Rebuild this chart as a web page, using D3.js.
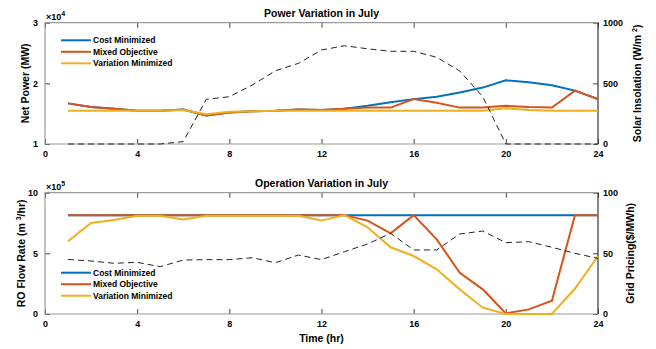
<!DOCTYPE html>
<html>
<head>
<meta charset="utf-8">
<script src="https://cdn.jsdelivr.net/npm/d3@7"></script>
<style>
  body { margin: 0; background: #fff; }
  text { font-family: "Liberation Sans", Arial, sans-serif; font-weight: bold; fill: #000; }
</style>
</head>
<body>
<svg id="chart" width="656" height="349"></svg>
<script>
// hours of the day
const hours = [1, 2, 3, 4, 5, 6, 7, 8, 9, 10, 11, 12, 13, 14, 15, 16, 17, 18, 19, 20, 21, 22, 23, 24];
const xTicks = [0, 4, 8, 12, 16, 20, 24];
const seriesNames = ["Cost Minimized", "Mixed Objective", "Variation Minimized"];

// top panel: net power (MW) and solar insolation (W/m2)
const powerCost = [16700, 16100, 15800, 15500, 15500, 15700, 14700, 15200, 15400, 15500, 15700, 15600,
  15800, 16300, 16900, 17400, 17800, 18500, 19300, 20500, 20200, 19700, 18800, 17400];
const powerMixed = [16700, 16100, 15800, 15500, 15500, 15700, 14700, 15200, 15400, 15500, 15700, 15600,
  15800, 16000, 16000, 17400, 16800, 16000, 16000, 16300, 16100, 16000, 18800, 17400];
const powerVariation = [15500, 15500, 15500, 15500, 15500, 15600, 14900, 15300, 15400, 15500, 15500, 15500,
  15500, 15500, 15500, 15500, 15500, 15500, 15500, 15900, 15600, 15500, 15500, 15500];
const solar = [0, 0, 0, 0, 0, 20, 368, 390, 486, 604, 665, 775, 810, 785, 764, 764, 715, 602, 390, 0, 0, 0, 0, 0];
const powerTicks = [10000, 20000, 30000];
const solarTicks = [0, 500, 1000];

// bottom panel: RO flow rate (m3/hr) and grid pricing ($/MWh)
const flowCost = [815000, 815000, 815000, 815000, 815000, 815000, 815000, 815000, 815000, 815000, 815000, 815000,
  815000, 815000, 815000, 815000, 815000, 815000, 815000, 815000, 815000, 815000, 815000, 815000];
const flowMixed = [815000, 815000, 815000, 815000, 815000, 815000, 815000, 815000, 815000, 815000, 815000, 815000,
  815000, 770000, 665000, 815000, 615000, 340000, 203000, 5000, 38000, 110000, 815000, 815000];
const flowVariation = [600000, 750000, 775000, 810000, 810000, 780000, 810000, 810000, 810000, 810000, 810000, 770000,
  815000, 715000, 550000, 478000, 368000, 203000, 52000, 0, 0, 0, 210000, 478000];
const price = [45, 43.7, 41.8, 42.6, 39, 44.5, 44.8, 44.8, 46.4, 42.3, 48.6, 44.8,
  51.4, 57.7, 66.5, 52.8, 52.8, 66, 68.4, 58.8, 59.6, 55, 50, 45.9];
const flowTicks = [0, 500000, 1000000];
const priceTicks = [0, 50, 100];

const colors = ["#0072BD", "#D95319", "#EDB120"];
const svg = d3.select("#chart");
const left = 45, right = 598;
const x = d3.scaleLinear().domain([0, 24]).range([left, right]);

function drawPanel(p) {
  const yL = d3.scaleLinear().domain(p.leftDomain).range([p.bottom, p.top]);
  const yR = d3.scaleLinear().domain(p.rightDomain).range([p.bottom, p.top]);
  const g = svg.append("g");

  // axes, ticks point inward like matlab
  const ax = g.append("g").attr("transform", "translate(0," + p.bottom + ")")
    .call(d3.axisBottom(x).tickValues(xTicks).tickSize(-5).tickPadding(7).tickFormat(d3.format("d")));
  g.append("g").attr("transform", "translate(0," + p.top + ")")
    .call(d3.axisTop(x).tickValues(xTicks).tickSize(-5).tickFormat(""));
  const ay = g.append("g").attr("transform", "translate(" + left + ",0)")
    .call(d3.axisLeft(yL).tickValues(p.leftTicks).tickSize(-5).tickPadding(7).tickFormat(d => d / p.leftExp));
  const ar = g.append("g").attr("transform", "translate(" + right + ",0)")
    .call(d3.axisRight(yR).tickValues(p.rightTicks).tickSize(-5).tickPadding(5).tickFormat(d3.format("d")));
  g.selectAll(".domain").remove();
  g.selectAll(".tick line").attr("stroke", "#444");
  g.selectAll(".tick text").style("font-size", "9px").style("font-family", null).attr("fill", "#000");

  // box
  g.append("path").attr("d", `M${right},${p.top}H${left}V${p.bottom}H${right}`)
    .attr("fill", "none").attr("stroke", "#9a9a9a").attr("stroke-width", 1.2);
  g.append("line").attr("x1", right).attr("x2", right).attr("y1", p.top).attr("y2", p.bottom)
    .attr("stroke", "#333").attr("stroke-width", 1.2);

  const line = y => d3.line().x((d, i) => x(hours[i])).y(d => y(d));
  p.series.forEach((s, i) => {
    g.append("path").datum(s).attr("d", line(yL))
      .attr("fill", "none").attr("stroke", colors[i]).attr("stroke-width", 2);
  });
  g.append("path").datum(p.dashed).attr("d", line(yR))
    .attr("fill", "none").attr("stroke", "#222").attr("stroke-width", 1)
    .attr("stroke-dasharray", "6,4");

  // title and exponent
  g.append("text").attr("x", (left + right) / 2).attr("y", p.top - 6)
    .attr("text-anchor", "middle").style("font-size", "10.5px").text(p.title);
  const ex = g.append("text").attr("x", left + 1).attr("y", p.top - 3).style("font-size", "9px");
  ex.append("tspan").text("\u00d710");
  ex.append("tspan").attr("dy", -4).style("font-size", "7px").text(p.expLabel);

  // y labels
  const yl = g.append("text").attr("transform", `translate(${p.leftLabelX},${(p.top + p.bottom) / 2}) rotate(-90)`)
    .attr("text-anchor", "middle").style("font-size", "10.5px");
  p.leftLabel.forEach((t, k) => {
    const ts = yl.append("tspan").text(t);
    if (k === 1) ts.attr("dy", -4).style("font-size", "7px");
    if (k === 2) ts.attr("dy", 4);
  });
  const yr = g.append("text").attr("transform", `translate(${p.rightLabelX},${(p.top + p.bottom) / 2}) rotate(-90)`)
    .attr("text-anchor", "middle").style("font-size", "10.5px");
  p.rightLabel.forEach((t, k) => {
    const ts = yr.append("tspan").text(t);
    if (k === 1) ts.attr("dy", -4).style("font-size", "7px");
    if (k === 2) ts.attr("dy", 4);
  });

  // legend
  const lg = g.append("g");
  seriesNames.forEach((n, i) => {
    const ly = p.legendY + i * 11.5;
    lg.append("line").attr("x1", 61).attr("x2", 91).attr("y1", ly).attr("y2", ly)
      .attr("stroke", colors[i]).attr("stroke-width", 2);
    lg.append("text").attr("x", 93).attr("y", ly).attr("dy", "0.35em")
      .style("font-size", "8.5px").text(n);
  });
}

drawPanel({
  top: 22.7, bottom: 144,
  leftDomain: [10000, 30000], rightDomain: [0, 1000],
  leftTicks: powerTicks, rightTicks: solarTicks, leftExp: 10000, expLabel: "4",
  series: [powerCost, powerMixed, powerVariation], dashed: solar,
  title: "Power Variation in July",
  leftLabel: ["Net Power (MW)"], leftLabelX: 29,
  rightLabel: ["Solar Insolation (W/m ", "2", ")"], rightLabelX: 641,
  legendY: 40.3
});

drawPanel({
  top: 192.7, bottom: 314,
  leftDomain: [0, 1000000], rightDomain: [0, 100],
  leftTicks: flowTicks, rightTicks: priceTicks, leftExp: 100000, expLabel: "5",
  series: [flowCost, flowMixed, flowVariation], dashed: price,
  title: "Operation Variation in July",
  leftLabel: ["RO Flow Rate (m ", "3", "/hr)"], leftLabelX: 25,
  rightLabel: ["Grid Pricing($/MWh)"], rightLabelX: 634,
  legendY: 272.7
});

svg.append("text").attr("x", (left + right) / 2).attr("y", 342)
  .attr("text-anchor", "middle").style("font-size", "10.5px").text("Time (hr)");
</script>
</body>
</html>
